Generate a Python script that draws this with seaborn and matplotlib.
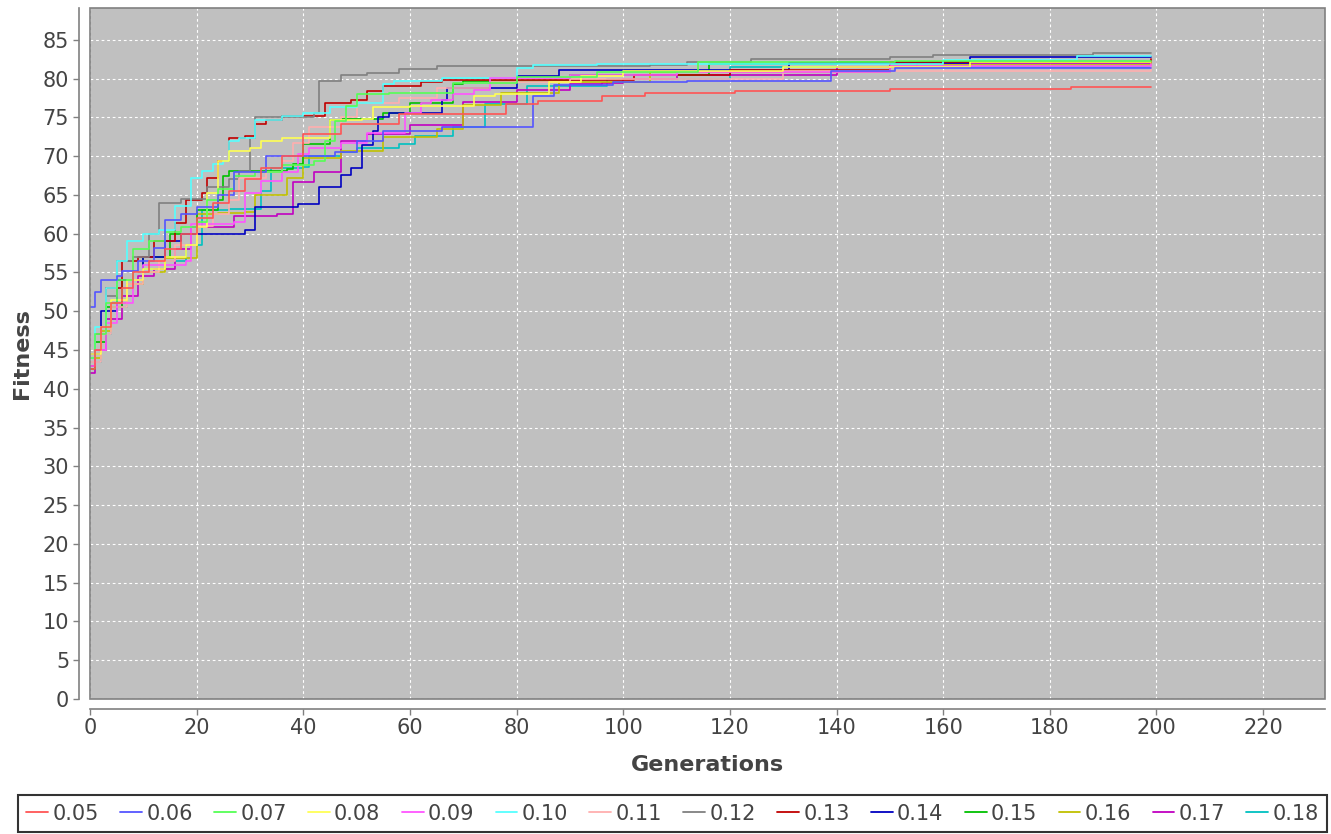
import matplotlib.pyplot as plt
import matplotlib.patches as mpatches
from matplotlib.lines import Line2D
import pandas as pd
import seaborn as sns

# rate di mutazione (una serie per ciascun valore)
rates = ["0.05", "0.06", "0.07", "0.08", "0.09", "0.10", "0.11",
         "0.12", "0.13", "0.14", "0.15", "0.16", "0.17", "0.18"]
colors = ["#FF5555", "#5555FF", "#55FF55", "#FFFF55", "#FF55FF", "#55FFFF", "#FFAFAF",
          "#808080", "#C00000", "#0000C0", "#00C000", "#C0C000", "#C000C0", "#00C0C0"]

# punti in cui cambia il fitness (generazione, fitness)
gen_005 = [0, 1, 2, 4, 6, 8, 11, 14, 17, 20, 23, 26, 29, 32, 36, 40, 47, 58, 78, 84, 96, 104, 121, 150, 184, 199]
fit_005 = [42.5, 45, 48, 51, 53, 55, 56.5, 58, 60, 62, 64, 65.5, 67, 68.5, 70, 72.9, 74.2, 75.4, 76.7, 77.1, 77.7, 78.2, 78.4, 78.6, 78.9, 78.9]

gen_006 = [0, 1, 2, 5, 6, 9, 12, 14, 17, 20, 24, 27, 33, 46, 50, 55, 66, 83, 87, 98, 112, 139, 151, 199]
fit_006 = [50.5, 52.5, 54, 54.5, 55.2, 56.5, 58.2, 61.7, 62.5, 63.5, 65, 68, 70, 70.5, 72, 73.3, 73.8, 77.7, 79.2, 79.6, 79.75, 81.0, 81.35, 81.35]

gen_007 = [0, 1, 3, 5, 8, 11, 14, 17, 20, 22, 24, 27, 31, 36, 42, 44, 46, 48, 50, 56, 68, 80, 95, 114, 151, 199]
fit_007 = [44, 47, 51, 54, 58, 59, 60.2, 60.8, 61.5, 64.3, 65.8, 67.5, 68, 68.8, 69.4, 72, 74.5, 76.5, 78, 78.2, 79.4, 80.2, 80.8, 82.1, 82.3, 82.3]

gen_008 = [0, 2, 4, 7, 10, 14, 18, 20, 22, 24, 26, 30, 32, 36, 45, 51, 53, 60, 72, 76, 86, 92, 100, 130, 165, 199]
fit_008 = [44.5, 48, 51.5, 54, 55.5, 57, 58.5, 60.8, 65.2, 69.4, 70.6, 71.1, 72, 72.4, 74.6, 74.8, 76.3, 76.5, 77.8, 78, 79.5, 80.3, 81, 81.5, 82.1, 82.1]

gen_009 = [0, 1, 3, 5, 8, 10, 18, 19, 27, 29, 32, 36, 39, 41, 47, 52, 59, 62, 64, 68, 72, 75, 90, 110, 150, 199]
fit_009 = [43, 45, 48.5, 51, 54, 55.9, 56.5, 61.3, 61.5, 65.3, 66.8, 68, 70.3, 71.1, 71.7, 73, 75.5, 76.8, 77.2, 78, 78.5, 80.1, 80.4, 80.8, 81.6, 81.9]

gen_010 = [0, 1, 3, 5, 7, 10, 13, 16, 19, 21, 23, 25, 26, 28, 31, 36, 40, 45, 50, 55, 57, 66, 80, 83, 95, 160, 185, 199]
fit_010 = [44, 48, 53, 56.5, 59, 60, 60.5, 63.6, 67.2, 68.1, 69, 69.4, 72, 72.4, 74.6, 75.2, 75.6, 76.3, 76.8, 79.3, 79.7, 80.1, 81.3, 81.8, 81.9, 82.4, 82.9, 82.9]

gen_011 = [0, 2, 4, 7, 10, 13, 16, 20, 23, 26, 28, 33, 36, 38, 41, 47, 50, 58, 65, 75, 90, 130, 199]
fit_011 = [43.5, 47, 50.5, 53.5, 55, 56.5, 58.5, 61, 62.5, 64.3, 67.2, 68, 69.4, 71.7, 73.7, 75, 76.8, 77.5, 78.8, 79.5, 80, 81, 81.6]

gen_012 = [0, 1, 3, 5, 8, 11, 13, 17, 22, 26, 28, 30, 31, 42, 43, 47, 52, 58, 65, 105, 112, 124, 150, 158, 188, 199]
fit_012 = [44, 47, 52, 56.5, 57, 60, 64, 64.5, 66, 67, 68.1, 72.4, 75, 75.5, 79.7, 80.4, 80.7, 81.2, 81.6, 81.7, 82.2, 82.5, 82.8, 83, 83.3, 83.3]

gen_013 = [0, 1, 3, 6, 9, 12, 16, 18, 21, 22, 24, 26, 29, 31, 33, 36, 44, 49, 52, 55, 62, 66, 102, 120, 150, 199]
fit_013 = [43, 47, 53, 56.5, 57, 59, 61.4, 64.3, 65.2, 67.2, 69.4, 72.4, 72.6, 74.2, 74.6, 75.2, 76.8, 77.2, 78.4, 79.1, 79.5, 79.8, 80.5, 81.1, 82.2, 82.5]

gen_014 = [0, 2, 5, 10, 14, 17, 29, 31, 39, 43, 47, 49, 51, 53, 54, 56, 66, 67, 80, 88, 131, 165, 199]
fit_014 = [44.5, 50, 54, 57, 59, 60, 60.5, 63.4, 63.8, 66, 67.6, 68.5, 71.4, 73.3, 75, 75.5, 77.2, 78.8, 80.3, 81.1, 82, 82.8, 82.8]

gen_015 = [0, 1, 3, 6, 10, 15, 20, 24, 25, 26, 37, 38, 40, 45, 47, 55, 60, 68, 70, 90, 116, 140, 199]
fit_015 = [42.5, 46, 50.5, 54, 57, 60, 63, 64.3, 67.5, 68.1, 68.3, 69, 71.6, 74.6, 74.8, 75.5, 76.9, 79.3, 79.7, 80.5, 81.9, 82.2, 82.2]

gen_016 = [0, 2, 4, 7, 10, 14, 20, 24, 29, 31, 37, 40, 47, 55, 65, 70, 77, 88, 105, 150, 199]
fit_016 = [44, 47.5, 51, 53.5, 55, 56.8, 62.5, 62.7, 62.8, 65, 67.2, 69.8, 70.7, 72.5, 73.5, 76.6, 78.2, 79.5, 80.8, 81.8, 82.0]

gen_017 = [0, 1, 3, 6, 9, 12, 16, 19, 27, 35, 38, 42, 47, 52, 60, 70, 80, 90, 96, 100, 110, 140, 155, 199]
fit_017 = [42, 45, 49, 52, 54.5, 55.5, 58, 60.8, 62.3, 62.5, 66.6, 68, 72, 72.8, 74, 77, 78.5, 79.3, 79.4, 79.9, 80.5, 81.5, 82.0, 82.0]

gen_018 = [0, 2, 4, 7, 10, 14, 18, 21, 26, 32, 34, 40, 41, 47, 50, 58, 61, 68, 74, 82, 97, 120, 199]
fit_018 = [43.5, 47, 50.5, 53.5, 55.5, 56.5, 58.5, 63, 63.2, 65.5, 68.5, 68.6, 70, 70.5, 71.1, 71.6, 72.6, 73.7, 76.7, 79.0, 80, 81.5, 81.6]

generazioni = [gen_005, gen_006, gen_007, gen_008, gen_009, gen_010, gen_011,
               gen_012, gen_013, gen_014, gen_015, gen_016, gen_017, gen_018]
fitness = [fit_005, fit_006, fit_007, fit_008, fit_009, fit_010, fit_011,
           fit_012, fit_013, fit_014, fit_015, fit_016, fit_017, fit_018]

# tabella lunga per seaborn
righe = []
for rate, gens, fits in zip(rates, generazioni, fitness):
    for g, f in zip(gens, fits):
        righe.append({"rate": rate, "gen": g, "fit": f})
df = pd.DataFrame(righe)

sns.set_style("darkgrid", {"axes.facecolor": "#C0C0C0", "grid.color": "white"})
plt.rcParams["font.family"] = ["DejaVu Sans"]

fig = plt.figure(figsize=(13.31, 8.34), dpi=100)
fig.patch.set_facecolor("white")
ax = fig.add_axes([90 / 1331, 1 - 699 / 834, 1235 / 1331, 691 / 834])

palette = dict(zip(rates, colors))
sns.lineplot(data=df, x="gen", y="fit", hue="rate", hue_order=rates[::-1],
             palette=palette, estimator=None, drawstyle="steps-post",
             linewidth=1.2, legend=False, ax=ax)

ax.set_xlim(0, 231.6)
ax.set_ylim(0, 89.1)
ax.set_xticks(range(0, 221, 20))
ax.set_yticks(range(0, 86, 5))

# griglia bianca tratteggiata
ax.grid(True, color="white", linestyle=(0, (2.5, 2.5)), linewidth=0.8)
ax.set_axisbelow(True)

# assi staccati dall'area del grafico, come in JFreeChart
for lato in ["top", "right"]:
    ax.spines[lato].set_visible(False)
ax.spines["left"].set_position(("outward", 8))
ax.spines["bottom"].set_position(("outward", 7))
for lato in ["left", "bottom"]:
    ax.spines[lato].set_color("#808080")
    ax.spines[lato].set_linewidth(1.2)
ax.add_patch(mpatches.Rectangle((0, 0), 1, 1, transform=ax.transAxes, fill=False,
                                edgecolor="#808080", linewidth=1.2, clip_on=False, zorder=5))

ax.tick_params(direction="out", length=4, width=1, color="#808080",
               labelcolor="#444444", labelsize=15, pad=3,
               bottom=True, left=True)

ax.set_xlabel("Generations", fontsize=16, fontweight="bold", color="#444444")
ax.set_ylabel("Fitness", fontsize=16, fontweight="bold", color="#444444")
ax.xaxis.set_label_coords(0.5, (699 - 765) / 691)
ax.xaxis.label.set_va("center")
ax.yaxis.set_label_coords((22 - 90) / 1235, 0.5)
ax.yaxis.label.set_va("center")

# legenda su una riga sotto il grafico
maniglie = [Line2D([0], [0], color=c, linewidth=1.3) for c in colors]
leg = fig.legend(maniglie, rates, loc="lower left",
                 bbox_to_anchor=(18 / 1331, 2 / 834, 1309 / 1331, 39 / 834),
                 mode="expand", ncol=14, fontsize=15, frameon=True, fancybox=False,
                 handlelength=1.05, handletextpad=0.2, borderpad=0.4,
                 borderaxespad=0, labelcolor="#444444")
leg.get_frame().set_edgecolor("black")
leg.get_frame().set_linewidth(1.5)
leg.get_frame().set_facecolor("white")

fig.savefig("out.png", dpi=100, facecolor="white")
